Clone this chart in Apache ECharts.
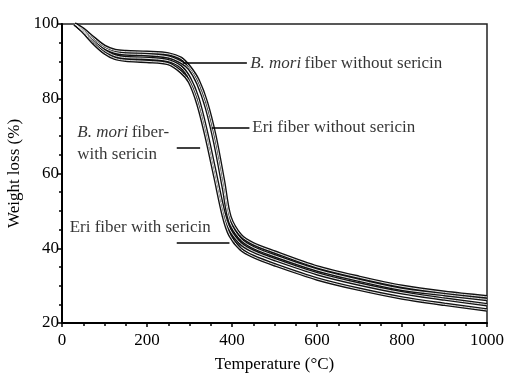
<!DOCTYPE html>
<html>
<head>
<meta charset="utf-8">
<script src="https://cdn.jsdelivr.net/npm/echarts@6/dist/echarts.min.js"></script>
<style>
  html, body { margin: 0; padding: 0; background: #fff; }
  #chart { width: 505px; height: 375px; }
</style>
</head>
<body>
<div id="chart"></div>
<script>
// temperature (°C) sampled along the curves
var temps = [30, 50, 75, 100, 125, 150, 200, 250, 280, 300, 320, 340, 360, 380, 395, 420, 450, 500, 600, 700, 800, 900, 1000];
// weight (%)
var moriNoSericin = [100, 98.6, 96.2, 94, 92.9, 92.6, 92.4, 92, 90.8, 88.5, 85, 79, 70, 58, 48.5, 43.5, 41.2, 39, 35, 32.2, 29.8, 28.2, 27];
var eriNoSericin  = [100, 98.3, 95.8, 93.6, 92.4, 92, 91.8, 91.2, 89.8, 88, 84, 77.5, 68, 56, 47, 42.5, 40.2, 38, 34.2, 31.4, 29, 27.6, 26.3];
var moriSericin   = [100, 98.1, 95.3, 92.9, 91.5, 91, 90.8, 90.2, 88.5, 85.5, 80, 71, 60.5, 50, 45, 41.3, 39.2, 37, 33.2, 30.4, 28.1, 26.4, 24.9];
var eriSericin    = [100, 97.9, 94.8, 92.3, 90.8, 90.3, 90, 89.4, 87.2, 84.5, 78.5, 69.5, 59, 48.5, 43.5, 39.8, 37.8, 35.6, 31.8, 29, 26.7, 25, 23.5];

var xTicks = [0, 200, 400, 600, 800, 1000];
var yTicks = [20, 40, 60, 80, 100];

var curves = [moriNoSericin, eriNoSericin, moriSericin, eriSericin];

var serif = '"Liberation Serif", "DejaVu Serif", serif';
var richText = {
  i: { fontFamily: serif, fontStyle: 'italic', fontSize: 17, color: '#000' },
  n: { fontFamily: serif, fontSize: 17, color: '#000' }
};

function pairs(ys) {
  return temps.map(function (t, i) { return [t, ys[i]]; });
}

var series = [];
// dark outline of each trace
curves.forEach(function (ys) {
  series.push({
    type: 'line', data: pairs(ys), smooth: 0.3, symbol: 'none', silent: true,
    lineStyle: { color: '#111', width: 3.6 }, z: 2
  });
});
// light core, gives the hollow stroke look
curves.forEach(function (ys) {
  series.push({
    type: 'line', data: pairs(ys), smooth: 0.3, symbol: 'none', silent: true,
    lineStyle: { color: '#e8e8e8', width: 1 }, z: 3
  });
});

// annotation labels and their pointer lines
series.push({
  type: 'scatter', symbolSize: 0, silent: true, z: 5,
  data: [
    { value: [438, 89.5], label: { show: true, position: 'right', distance: 2, formatter: '{i|B. mori} {n|fiber without sericin}', rich: richText } },
    { value: [443, 72.2], label: { show: true, position: 'right', distance: 2, formatter: '{n|Eri fiber without sericin}', rich: richText } },
    { value: [36, 67.9], label: { show: true, position: 'right', distance: 0, align: 'left', lineHeight: 22, formatter: '{i|B. mori} {n|fiber-}\n{n|with sericin}', rich: richText } },
    { value: [18, 45.6], label: { show: true, position: 'right', distance: 0, formatter: '{n|Eri fiber with sericin}', rich: richText } }
  ],
  markLine: {
    silent: true, symbol: 'none', animation: false,
    label: { show: false },
    lineStyle: { color: '#000', width: 1.5, type: 'solid' },
    data: [
      [{ coord: [285, 89.5] }, { coord: [435, 89.5] }],
      [{ coord: [352, 72.2] }, { coord: [441, 72.2] }],
      [{ coord: [270, 67] }, { coord: [325, 67] }],
      [{ coord: [270, 41.6] }, { coord: [394, 41.6] }]
    ]
  }
});

var chart = echarts.init(document.getElementById('chart'), null, { renderer: 'canvas' });
chart.setOption({
  animation: false,
  backgroundColor: '#fff',
  grid: {
    left: 62, right: 18, top: 24, bottom: 52,
    containLabel: false, outerBoundsMode: 'none',
    show: true, borderColor: '#222', borderWidth: 1.5
  },
  xAxis: {
    type: 'value', min: 0, max: 1000, interval: 200,
    name: 'Temperature (°C)', nameLocation: 'middle', nameGap: 33,
    nameTextStyle: { fontFamily: serif, fontSize: 17, color: '#000' },
    axisLine: { show: true, onZero: false, lineStyle: { color: '#000', width: 2 } },
    axisTick: { show: true, inside: false, length: 4, lineStyle: { color: '#000', width: 1.5 } },
    minorTick: { show: true, splitNumber: 4, length: 3, lineStyle: { color: '#000', width: 1.5 } },
    axisLabel: { fontFamily: serif, fontSize: 17, color: '#000', margin: 9,
      formatter: function (v) { return xTicks.indexOf(v) >= 0 ? String(v) : ''; } },
    splitLine: { show: false }
  },
  yAxis: {
    type: 'value', min: 20, max: 100, interval: 20,
    name: 'Weight loss (%)', nameLocation: 'middle', nameGap: 36, nameRotate: 90,
    nameTextStyle: { fontFamily: serif, fontSize: 17, color: '#000' },
    axisLine: { show: true, onZero: false, lineStyle: { color: '#000', width: 2 } },
    axisTick: { show: true, inside: false, length: 4, lineStyle: { color: '#000', width: 1.5 } },
    minorTick: { show: true, splitNumber: 4, length: 3, lineStyle: { color: '#000', width: 1.5 } },
    axisLabel: { fontFamily: serif, fontSize: 17, color: '#000', margin: 3,
      formatter: function (v) { return yTicks.indexOf(v) >= 0 ? String(v) : ''; } },
    splitLine: { show: false }
  },
  series: series
});
</script>
</body>
</html>
